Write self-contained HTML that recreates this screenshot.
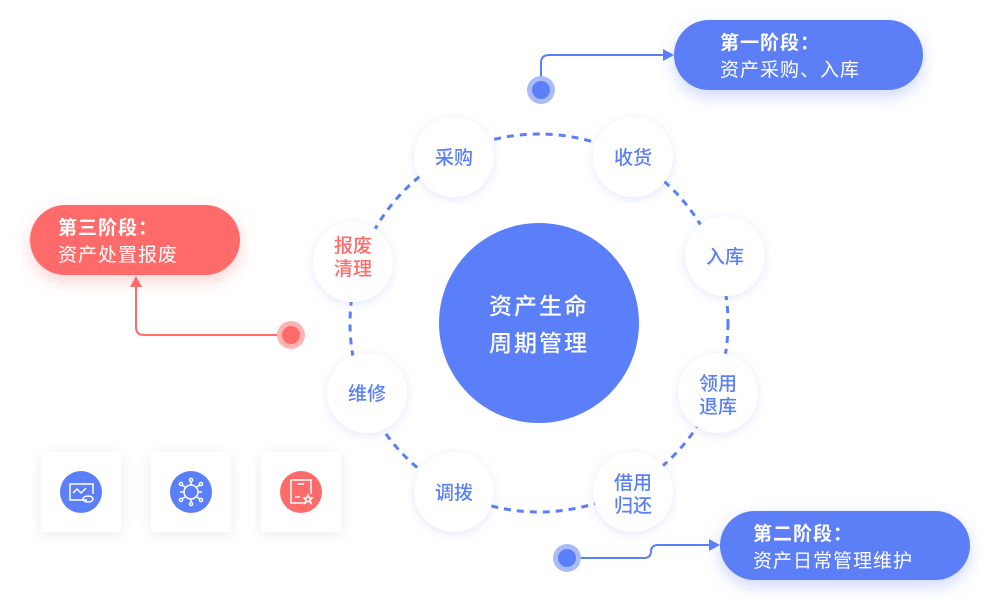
<!DOCTYPE html>
<html><head><meta charset="utf-8"><style>
body{margin:0;background:#fff;width:1000px;height:600px;overflow:hidden;font-family:"Liberation Sans","Noto Sans CJK SC",sans-serif;}
</style></head><body>
<svg width="1000" height="600" xmlns="http://www.w3.org/2000/svg" font-family="Liberation Sans, Noto Sans CJK SC, sans-serif">
<defs>
<filter id="sh" x="-50%" y="-50%" width="200%" height="200%"><feDropShadow dx="0" dy="2" stdDeviation="5" flood-color="#5b7ff8" flood-opacity="0.18"/></filter>
<filter id="sg" x="-50%" y="-50%" width="200%" height="200%"><feDropShadow dx="0" dy="3" stdDeviation="7" flood-color="#000" flood-opacity="0.08"/></filter>
<filter id="sb" x="-30%" y="-50%" width="160%" height="200%"><feDropShadow dx="0" dy="6" stdDeviation="8" flood-color="#5b7ff8" flood-opacity="0.3"/></filter>
<filter id="sr" x="-30%" y="-50%" width="160%" height="200%"><feDropShadow dx="0" dy="6" stdDeviation="8" flood-color="#ff6b6b" flood-opacity="0.3"/></filter>
</defs>
<circle cx="539" cy="323" r="189" fill="none" stroke="#5b7ff8" stroke-width="3" stroke-dasharray="7 6"/>
<circle cx="539" cy="323" r="100" fill="#5b7ff8"/>
<text x="539" y="314" text-anchor="middle" font-size="23" font-weight="500" fill="#fff" letter-spacing="2">资产生命</text>
<text x="539" y="351" text-anchor="middle" font-size="23" font-weight="500" fill="#fff" letter-spacing="2">周期管理</text>
<g font-size="19" font-weight="500" fill="#5b7ff8" text-anchor="middle">
<circle cx="454" cy="157" r="40" fill="#fff" filter="url(#sh)"/><text x="454" y="164">采购</text>
<circle cx="633" cy="157" r="40" fill="#fff" filter="url(#sh)"/><text x="633" y="164">收货</text>
<circle cx="725" cy="256" r="40" fill="#fff" filter="url(#sh)"/><text x="725" y="263">入库</text>
<circle cx="718" cy="393" r="40" fill="#fff" filter="url(#sh)"/><text x="718" y="390">领用</text><text x="718" y="413">退库</text>
<circle cx="633" cy="492" r="40" fill="#fff" filter="url(#sh)"/><text x="633" y="489">借用</text><text x="633" y="512">归还</text>
<circle cx="454" cy="492" r="40" fill="#fff" filter="url(#sh)"/><text x="454" y="499">调拨</text>
<circle cx="367" cy="393" r="40" fill="#fff" filter="url(#sh)"/><text x="367" y="400">维修</text>
<circle cx="353" cy="262" r="40" fill="#fff" filter="url(#sh)"/><text x="353" y="252" fill="#ff6b6b">报废</text><text x="353" y="275" fill="#ff6b6b">清理</text>
</g>
<path d="M541 90 V63 Q541 55 549 55 H664" fill="none" stroke="#5b7ff8" stroke-width="2"/>
<polygon points="674,55 663,49 663,61" fill="#5b7ff8"/>
<circle cx="541" cy="90" r="14" fill="#a9bbfb"/><circle cx="541" cy="90" r="9" fill="#5b7ff8"/>
<path d="M291 335 H144 Q136 335 136 327 V285" fill="none" stroke="#ff6b6b" stroke-width="2"/>
<polygon points="136,276 130,287 142,287" fill="#ff6b6b"/>
<circle cx="291" cy="335" r="14" fill="#ffb3b3"/><circle cx="291" cy="335" r="9" fill="#ff6b6b"/>
<path d="M567 558 H644 Q651 558 651 551 V552 Q651 545 658 545 H710" fill="none" stroke="#5b7ff8" stroke-width="2"/>
<polygon points="720,545 709,539 709,551" fill="#5b7ff8"/>
<circle cx="567" cy="558" r="14" fill="#a9bbfb"/><circle cx="567" cy="558" r="9" fill="#5b7ff8"/>
<rect x="674" y="20" width="249" height="70" rx="35" fill="#5b7ff8" filter="url(#sb)"/>
<text x="720" y="49" font-size="19" font-weight="bold" fill="#fff" letter-spacing="1">第一阶段：</text>
<text x="720" y="76" font-size="19" fill="#fff" letter-spacing="1">资产采购、入库</text>
<rect x="30" y="205" width="210" height="70" rx="35" fill="#ff6b6b" filter="url(#sr)"/>
<text x="58" y="234" font-size="19" font-weight="bold" fill="#fff" letter-spacing="1">第三阶段：</text>
<text x="58" y="261" font-size="19" fill="#fff" letter-spacing="1">资产处置报废</text>
<rect x="720" y="511" width="250" height="69" rx="34.5" fill="#5b7ff8" filter="url(#sb)"/>
<text x="753" y="540" font-size="19" font-weight="bold" fill="#fff" letter-spacing="1">第二阶段：</text>
<text x="753" y="567" font-size="19" fill="#fff" letter-spacing="1">资产日常管理维护</text>
<rect x="41" y="452" width="80" height="80" rx="4" fill="#fff" filter="url(#sg)"/>
<rect x="151" y="452" width="80" height="80" rx="4" fill="#fff" filter="url(#sg)"/>
<rect x="261" y="452" width="80" height="80" rx="4" fill="#fff" filter="url(#sg)"/>
<circle cx="81" cy="492" r="21" fill="#5b7ff8"/>
<g fill="none" stroke="#fff" stroke-width="1.5">
<path d="M87 500 H70 V484 H93 V494"/><path d="M73 493 L77 489 L81 493 L86 488"/><ellipse cx="88" cy="499" rx="5" ry="3"/>
</g>
<circle cx="191" cy="492" r="21" fill="#5b7ff8"/>
<g fill="none" stroke="#fff" stroke-width="1.5">
<circle cx="191" cy="492" r="7"/>
<path d="M191 485 V481 M191 499 V503 M184 492 H180 M198 492 H202 M185 487 L182 485 M197 487 L200 485 M185 497 L182 499 M197 497 L200 499"/>
<circle cx="191" cy="480" r="1.6"/><circle cx="191" cy="504" r="1.6"/><circle cx="181" cy="484" r="1.6"/><circle cx="201" cy="484" r="1.6"/><circle cx="181" cy="500" r="1.6"/><circle cx="201" cy="500" r="1.6"/>
</g>
<circle cx="301" cy="492" r="21" fill="#ff6b6b"/>
<g fill="none" stroke="#fff" stroke-width="1.5">
<path d="M306 503 H291 V480 H311 V494"/><path d="M297 484 H304 M295 497 H300"/><polygon points="308,495 309.5,498 312,498 310,500 311,503 308,501 305,503 306,500 304,498 306.5,498"/>
</g>
</svg>
</body></html>
